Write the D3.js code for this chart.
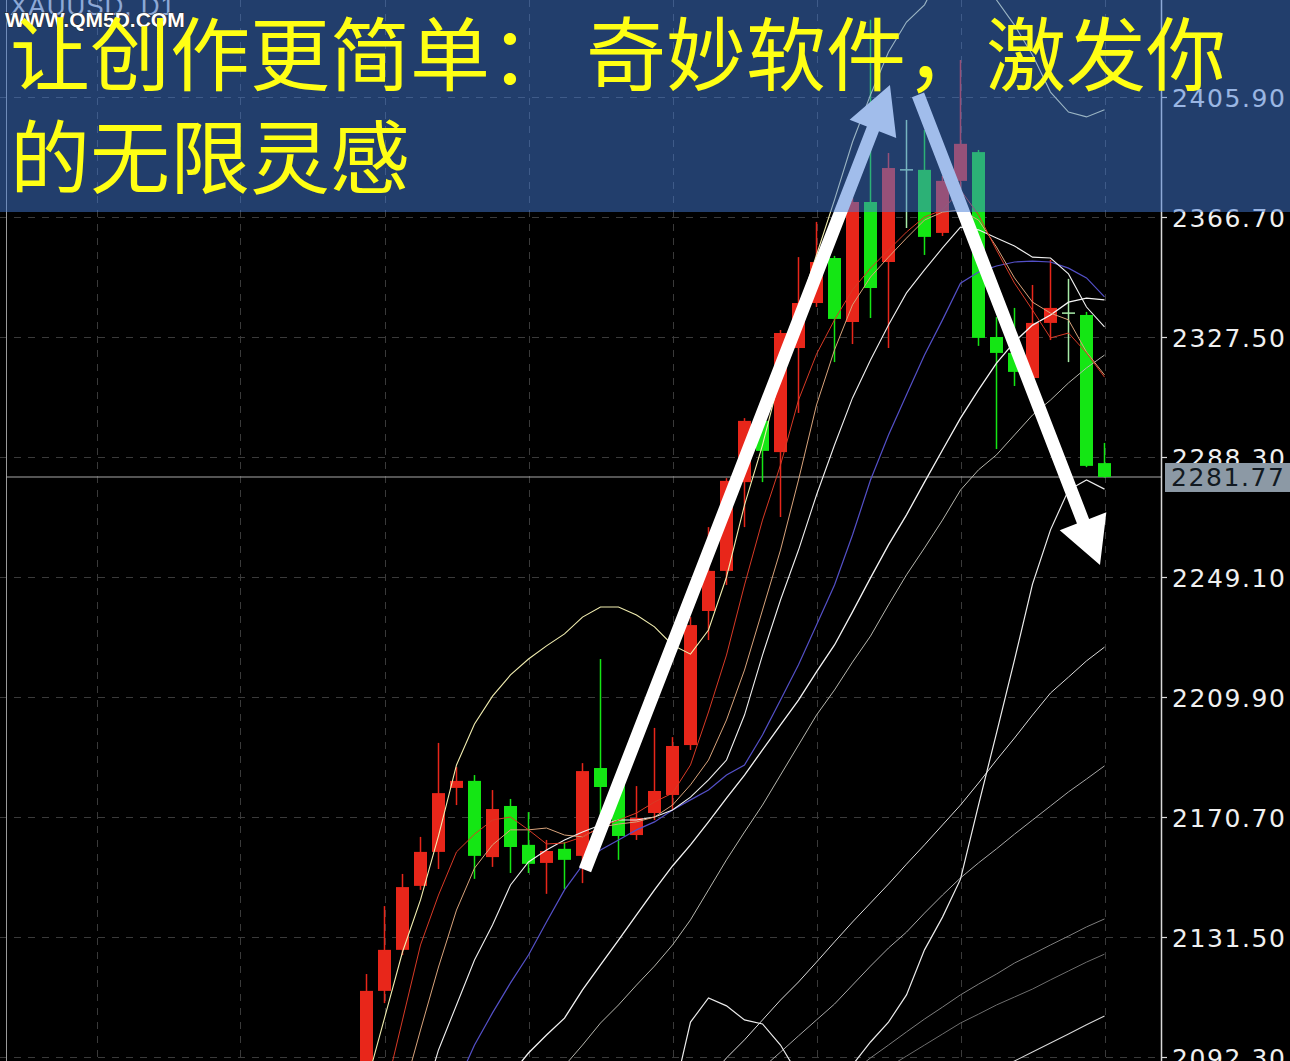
<!DOCTYPE html>
<html><head><meta charset="utf-8">
<script src="https://cdn.jsdelivr.net/npm/d3@7"></script>
<style>html,body{margin:0;padding:0;background:#000;overflow:hidden}</style>
</head><body>
<svg id="c" width="1290" height="1061"></svg>
<script>
// ---------------- DATA ----------------
const dates = ["2024-03-04","2024-03-05","2024-03-06","2024-03-07","2024-03-08","2024-03-11","2024-03-12","2024-03-13","2024-03-14","2024-03-15",
"2024-03-18","2024-03-19","2024-03-20","2024-03-21","2024-03-22","2024-03-25","2024-03-26","2024-03-27","2024-03-28","2024-04-01",
"2024-04-02","2024-04-03","2024-04-04","2024-04-05","2024-04-08","2024-04-09","2024-04-10","2024-04-11","2024-04-12","2024-04-15",
"2024-04-16","2024-04-17","2024-04-18","2024-04-19","2024-04-22","2024-04-23","2024-04-24","2024-04-25","2024-04-26","2024-04-29",
"2024-04-30","2024-05-01"];
const open  = [2084.8,2113.9,2127.3,2148.2,2159.3,2180.2,2182.5,2157.6,2174.3,2161.6,2155.7,2160.3,2158.0,2186.7,2181.2,2164.8,2172.0,2177.9,2194.2,2238.0,2251.1,2280.1,2300.1,2289.9,2323.9,2338.6,2353.3,2332.4,2371.6,2352.0,2382.1,2382.1,2361.5,2378.5,2387.9,2327.5,2322.3,2314.1,2332.1,2335.3,2334.7,2286.3];
const high  = [2119.4,2141.6,2152.1,2164.2,2194.9,2187.0,2184.4,2179.5,2176.6,2172.3,2163.2,2162.5,2188.3,2222.3,2182.8,2180.8,2199.8,2196.8,2236.0,2265.4,2281.4,2301.0,2300.7,2329.8,2353.6,2365.1,2354.0,2372.9,2431.1,2387.6,2398.4,2395.1,2380.1,2418.0,2388.6,2334.0,2337.0,2344.5,2352.7,2346.5,2335.7,2292.9];
const low   = [2081.5,2109.9,2125.6,2146.9,2153.7,2174.6,2150.5,2154.4,2152.4,2152.4,2145.6,2147.2,2149.1,2164.8,2156.7,2163.2,2169.7,2173.0,2192.6,2228.5,2246.5,2265.4,2280.1,2268.7,2302.7,2337.3,2319.3,2325.2,2333.7,2323.9,2363.1,2354.3,2360.5,2366.7,2324.6,2290.9,2311.5,2313.5,2326.5,2319.3,2285.0,2281.5];
const close = [2113.9,2127.3,2147.8,2159.3,2178.5,2182.5,2158.0,2173.3,2160.9,2155.4,2159.6,2156.7,2185.7,2180.5,2164.5,2170.4,2179.2,2193.9,2233.4,2251.1,2280.5,2300.1,2290.3,2328.8,2338.6,2352.0,2333.4,2371.6,2343.5,2382.7,2382.1,2360.2,2378.5,2390.6,2327.2,2322.3,2316.1,2332.1,2337.0,2335.3,2285.4,2281.77];

// indicator lines (value per bar, starting at the given date)
const bbUpper = [2083.5,2105.0,2126.6,2143.6,2164.5,2187.7,2201.1,2210.2,2217.1,2222.3,2226.6,2230.5,2236.0,2239.3,2239.3,2236.7,2232.8,2226.9,2223.9,2231.8,2249.1,2272.6,2292.2,2315.1,2336.3,2354.3,2372.3,2391.2,2406.6,2420.6,2430.4,2436.0,2447.4,2449.0,2445.8,2437.6,2429.4,2419.6,2407.5,2401.0,2399.4,2401.7];
const bbUpperFrom = "2024-03-04";
const bbLower = [2078.3,2103.7,2111.6,2109.0,2104.4,2103.1,2096.2,2086.4,2081.5,2083.2,2089.7,2097.2,2103.7,2112.6,2127.3,2138.0,2150.4,2174.6,2198.1,2222.0,2246.8,2264.5,2277.5,2280.8,2277.8];
const bbLowerFrom = "2024-03-27";
const ma20 = [2079.9,2086.4,2093.6,2099.5,2105.0,2114.2,2122.4,2130.5,2138.7,2146.9,2154.7,2161.6,2169.1,2176.9,2184.4,2192.6,2200.8,2208.9,2218.1,2226.9,2237.7,2248.8,2259.6,2269.4,2280.1,2290.6,2301.0,2310.2,2319.0,2325.9,2331.4,2334.7,2338.9,2340.2,2339.6];
const ma20From = "2024-03-13";
const ma10 = [2075.0,2094.6,2109.3,2124.0,2135.4,2148.5,2156.0,2159.9,2163.2,2165.8,2168.1,2169.7,2169.7,2170.7,2173.0,2177.2,2182.8,2189.3,2204.0,2223.6,2241.6,2257.9,2275.9,2292.2,2307.6,2320.0,2331.4,2341.9,2349.4,2356.6,2363.4,2362.5,2359.8,2357.2,2353.6,2353.3,2348.1,2337.3,2330.8];
const ma10From = "2024-03-07";
const ma5 = [2079.9,2104.4,2128.9,2145.2,2159.3,2165.1,2169.7,2170.7,2166.5,2161.9,2162.2,2164.2,2167.4,2169.7,2172.0,2175.6,2178.5,2187.7,2205.0,2223.6,2246.5,2267.7,2285.7,2306.9,2321.9,2333.1,2342.9,2350.0,2355.9,2361.8,2366.7,2369.0,2375.5,2367.4,2355.9,2345.1,2336.3,2327.2,2328.8,2322.3,2314.4];
const ma5From = "2024-03-05";
const ma8 = [2079.9,2101.1,2121.7,2140.3,2154.0,2161.6,2166.5,2166.5,2167.1,2164.8,2164.2,2167.4,2168.4,2169.1,2170.7,2174.6,2181.2,2189.3,2202.4,2218.7,2238.3,2257.9,2280.8,2305.3,2323.3,2338.0,2347.1,2353.6,2359.8,2365.7,2368.3,2369.0,2365.7,2356.9,2346.8,2338.9,2335.3,2333.1,2322.6,2315.1];
const ma8From = "2024-03-06";
const maPurple = [2083.2,2096.2,2106.7,2116.5,2125.6,2136.4,2146.9,2155.0,2159.9,2163.2,2166.5,2169.1,2173.0,2176.3,2179.5,2184.4,2187.7,2197.5,2208.9,2220.4,2233.4,2246.5,2262.8,2280.8,2295.5,2308.6,2321.6,2333.1,2345.1,2348.7,2350.7,2352.0,2352.3,2352.0,2350.0,2346.8,2340.6];
const maPurpleFrom = "2024-03-11";
const maGreyD = [2083.2,2089.4,2096.2,2103.4,2109.3,2115.8,2122.0,2128.9,2137.1,2146.9,2156.7,2165.8,2174.6,2184.4,2194.2,2204.0,2212.2,2221.3,2229.8,2240.0,2249.8,2258.6,2267.7,2277.5,2284.1,2289.0,2295.5,2302.0,2306.9,2312.5,2317.4,2321.6];
const maGreyDFrom = "2024-03-18";
const maF = [2085.4,2092.0,2097.9,2104.4,2110.9,2116.8,2123.3,2129.9,2136.4,2142.6,2148.8,2155.3,2161.6,2168.1,2174.6,2181.8,2189.3,2196.5,2204.0,2211.2,2216.4,2221.7,2226.2];
const maFFrom = "2024-04-01";
const maG = [2088.7,2093.9,2099.2,2104.4,2109.6,2115.8,2122.0,2127.9,2133.1,2139.3,2145.2,2150.8,2155.7,2160.3,2165.1,2169.7,2174.3,2178.9,2183.1,2187.4];
const maGFrom = "2024-04-04";
const maH = [2087.4,2092.0,2096.2,2100.5,2104.7,2108.6,2112.6,2116.1,2119.4,2123.0,2125.9,2128.9,2131.8,2134.8,2137.4];
const maHFrom = "2024-04-11";
const maI = [2089.0,2092.6,2096.2,2099.8,2103.4,2106.3,2109.3,2111.9,2114.5,2117.5,2120.4,2123.3,2125.9];
const maIFrom = "2024-04-15";
const maJ = [2088.1,2091.0,2093.9,2096.9,2099.8,2102.8,2105.7];
const maJFrom = "2024-04-23";

const yTicks = [2092.3,2131.5,2170.7,2209.9,2249.1,2288.3,2327.5,2366.7,2405.9];
const yTickLabels = ["2092.30","2131.50","2170.70","2209.90","2249.10","2288.30","2327.50","2366.70","2405.90"];
const lastPrice = 2281.77;
const lastPriceLabel = "2281.77";

// annotation arrows: [bar position, price]
const arrowUp   = {from:[12.14, 2153.4], to:[29.08, 2409.8]};
const arrowDown = {from:[30.64, 2406.6], to:[40.75, 2253.0]};

const symbolLabel = "XAUUSD, D1";
const watermark = "WWW.QM5D.COM";
const title1a = "让创作更简单：";
const title1b = "奇妙软件，激发你";
const title2  = "的无限灵感";

// ---------------- DRAW ----------------
const W = 1290, H = 1061, axisX = 1161, bannerH = 212;
const svg = d3.select("#c");
svg.append("rect").attr("width", W).attr("height", H).attr("fill", "#000");

const x = d3.scaleLinear().domain([0, dates.length - 1]).range([366.5, 1104.5]);
const y = d3.scaleLinear().domain([2092.3, 2405.9]).range([1057, 97]);
const step = x(1) - x(0);
const bodyW = Math.round(step * 0.72);

svg.append("defs").append("clipPath").attr("id", "plot")
  .append("rect").attr("x", 0).attr("y", 0).attr("width", axisX).attr("height", H);
const plot = svg.append("g").attr("clip-path", "url(#plot)");

// grid
const grid = plot.append("g").attr("stroke", "#3a3a3a").attr("stroke-width", 1).attr("stroke-dasharray", "7,7");
grid.selectAll("line.h").data(yTicks).join("line").attr("class", "h")
  .attr("x1", 0).attr("x2", axisX).attr("y1", d => Math.round(y(d)) + 0.5).attr("y2", d => Math.round(y(d)) + 0.5);
const gridIdx = d3.range(dates.length - 1, -20, -8);
grid.selectAll("line.v").data(gridIdx).join("line").attr("class", "v")
  .attr("x1", d => Math.round(x(d)) + 0.5).attr("x2", d => Math.round(x(d)) + 0.5).attr("y1", 0).attr("y2", H);

// left border
plot.append("line").attr("x1", 6.5).attr("x2", 6.5).attr("y1", 0).attr("y2", H).attr("stroke", "#9a9a9a").attr("stroke-width", 1);

// current price line
plot.append("line").attr("x1", 6).attr("x2", axisX).attr("y1", y(lastPrice)).attr("y2", y(lastPrice))
  .attr("stroke", "#a8a8a8").attr("stroke-width", 1.2);

// candles
const candles = dates.map((d, i) => ({ d, i, o: open[i], h: high[i], l: low[i], c: close[i] }));
const colorOf = k => k.c > k.o ? "#e8261a" : (k.c < k.o ? "#14e614" : "#a8eca8");
const cg = plot.append("g");
cg.selectAll("line.wick").data(candles).join("line").attr("class", "wick")
  .attr("x1", k => x(k.i)).attr("x2", k => x(k.i)).attr("y1", k => y(k.h)).attr("y2", k => y(k.l))
  .attr("stroke", colorOf).attr("stroke-width", 1.5);
cg.selectAll("rect.body").data(candles.filter(k => k.o !== k.c)).join("rect").attr("class", "body")
  .attr("x", k => x(k.i) - bodyW / 2).attr("width", bodyW)
  .attr("y", k => y(Math.max(k.o, k.c))).attr("height", k => Math.max(1.5, y(Math.min(k.o, k.c)) - y(Math.max(k.o, k.c))))
  .attr("fill", colorOf);
cg.selectAll("line.doji").data(candles.filter(k => k.o === k.c)).join("line").attr("class", "doji")
  .attr("x1", k => x(k.i) - bodyW / 2).attr("x2", k => x(k.i) + bodyW / 2).attr("y1", k => y(k.o)).attr("y2", k => y(k.o))
  .attr("stroke", colorOf).attr("stroke-width", 1.5);

// indicator lines
const series = [
  { v: maJ, from: maJFrom, color: "#d8d8d8", w: 1.1 },
  { v: maI, from: maIFrom, color: "#6e6e6e", w: 1 },
  { v: maH, from: maHFrom, color: "#7e7e7e", w: 1 },
  { v: maG, from: maGFrom, color: "#a8a8a8", w: 1 },
  { v: maF, from: maFFrom, color: "#dcdcdc", w: 1 },
  { v: maGreyD, from: maGreyDFrom, color: "#b6b6ae", w: 1 },
  { v: bbLower, from: bbLowerFrom, color: "#ececec", w: 1.2 },
  { v: ma20, from: ma20From, color: "#f4f4f4", w: 1.3 },
  { v: maPurple, from: maPurpleFrom, color: "#5450c8", w: 1.2 },
  { v: ma10, from: ma10From, color: "#f0f0f0", w: 1.1 },
  { v: ma8, from: ma8From, color: "#d9a47c", w: 1 },
  { v: ma5, from: ma5From, color: "#d83a26", w: 1 },
  { v: bbUpper, from: bbUpperFrom, color: "#f2eeb0", w: 1.1 }
];
const lineGen = d3.line().x(d => x(d[0])).y(d => y(d[1]));
plot.append("g").selectAll("path").data(series).join("path")
  .attr("d", s => { const st = dates.indexOf(s.from); return lineGen(s.v.map((v, j) => [st + j, v])); })
  .attr("fill", "none").attr("stroke", s => s.color).attr("stroke-width", s => s.w);

// arrows
function arrowPath(a) {
  const p0 = [x(a.from[0]), y(a.from[1])], p1 = [x(a.to[0]), y(a.to[1])];
  const dx = p1[0] - p0[0], dy = p1[1] - p0[1], len = Math.hypot(dx, dy);
  const ux = dx / len, uy = dy / len, px = -uy, py = ux;
  const headL = 47, headW = 25, sw = 6.5;
  const b = [p1[0] - ux * headL, p1[1] - uy * headL];
  const pts = [
    [p0[0] + px * sw, p0[1] + py * sw], [b[0] + px * sw, b[1] + py * sw], [b[0] + px * headW, b[1] + py * headW],
    p1, [b[0] - px * headW, b[1] - py * headW], [b[0] - px * sw, b[1] - py * sw], [p0[0] - px * sw, p0[1] - py * sw]
  ];
  return "M" + pts.map(p => p.join(",")).join("L") + "Z";
}
svg.append("g").selectAll("path").data([arrowUp, arrowDown]).join("path")
  .attr("d", arrowPath).attr("fill", "#ffffff");

// y axis
svg.append("line").attr("x1", axisX + 0.5).attr("x2", axisX + 0.5).attr("y1", 0).attr("y2", H)
  .attr("stroke", "#d8d8d8").attr("stroke-width", 1.5);
const ax = svg.append("g").attr("transform", `translate(${axisX},0)`)
  .call(d3.axisRight(y).tickValues(yTicks).tickFormat((d, i) => yTickLabels[i]).tickSize(6).tickPadding(5));
ax.select(".domain").remove();
ax.selectAll(".tick line").attr("stroke", "#d8d8d8").attr("stroke-width", 1.2);
ax.selectAll(".tick text").attr("fill", "#f0f0f0").attr("font-family", "DejaVu Sans")
  .attr("font-size", 25).attr("letter-spacing", 1.6).attr("dy", "0.36em");

// last price box
const lp = svg.append("g");
lp.append("rect").attr("x", axisX + 4).attr("y", y(lastPrice) - 14).attr("width", W - axisX - 4).attr("height", 29)
  .attr("fill", "#8c99a5");
lp.append("text").attr("x", axisX + 10).attr("y", y(lastPrice)).attr("dy", "0.36em")
  .attr("font-family", "DejaVu Sans").attr("font-size", 25).attr("letter-spacing", 1.6)
  .attr("fill", "#121a22").text(lastPriceLabel);

// symbol label (under banner)
svg.append("text").attr("x", 10).attr("y", 15).attr("font-family", "Liberation Sans").attr("font-size", 26)
  .attr("letter-spacing", 1).attr("fill", "#ffffff").attr("fill-opacity", 0.85).text(symbolLabel);

// banner
svg.append("rect").attr("x", 0).attr("y", 0).attr("width", W).attr("height", bannerH)
  .attr("fill", "rgb(68,124,216)").attr("fill-opacity", 0.5);

// watermark
svg.append("text").attr("x", 5).attr("y", 27).attr("font-family", "Liberation Sans").attr("font-weight", "bold")
  .attr("font-size", 21).attr("fill", "#ffffff").attr("stroke", "#2a2a2a").attr("stroke-width", 1.2)
  .attr("paint-order", "stroke").text(watermark);

// title
const tf = "'Noto Sans CJK SC', 'Noto Sans CJK JP', sans-serif";
const tg = svg.append("g").attr("font-family", tf).attr("font-size", 80).attr("fill", "#ffff14");
tg.append("text").attr("x", 10).attr("y", 84).text(title1a);
tg.append("text").attr("x", 586).attr("y", 84).text(title1b);
tg.append("text").attr("x", 10).attr("y", 187).text(title2);
</script>
</body></html>
